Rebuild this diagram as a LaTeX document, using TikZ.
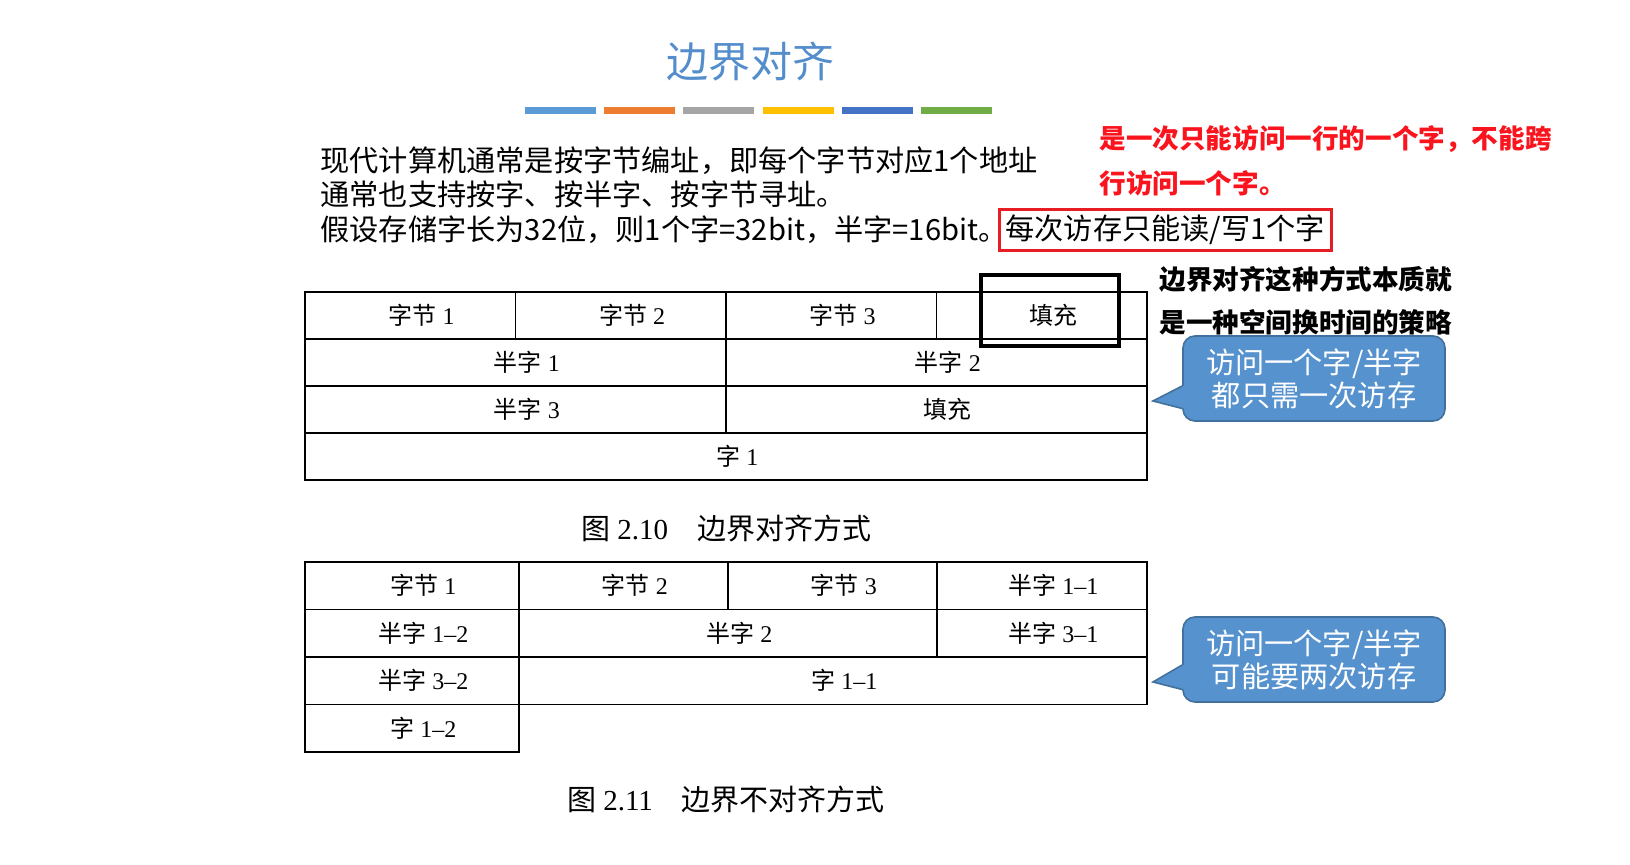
\documentclass[tikz,border=0pt]{standalone}
\usepackage{fontspec}
\setmainfont{Liberation Serif}
\newfontfamily\cjk{Noto Sans CJK SC}
\usetikzlibrary{positioning,calc}
\definecolor{titleblue}{RGB}{84,141,204}
\definecolor{barblue}{RGB}{91,155,213}
\definecolor{barorange}{RGB}{237,125,49}
\definecolor{bargray}{RGB}{165,165,165}
\definecolor{bargold}{RGB}{255,192,0}
\definecolor{bardark}{RGB}{68,114,196}
\definecolor{bargreen}{RGB}{112,173,71}
\definecolor{markred}{RGB}{232,28,36}
\definecolor{notered}{RGB}{250,20,30}
\definecolor{callfill}{RGB}{86,146,206}
\definecolor{callline}{RGB}{65,113,156}
\newcommand{\zh}[1]{{\cjk #1}}
\tikzset{
  cell/.style={draw, line width=0.9pt, anchor=north west, inner sep=0pt, outer sep=0pt, font=\fontsize{12}{14}\selectfont, execute at begin node={\hspace*{11.4pt}}},
  bodytxt/.style={anchor=west, inner sep=0pt, font=\cjk\fontsize{14.6}{18}\selectfont},
  bubble/.style={fill=callfill, draw=callline, line width=0.8pt, rounded corners=6pt, minimum width=131pt, minimum height=42.5pt, align=center, text=white, font=\cjk\fontsize{14.6}{16.5}\selectfont},
  caption/.style={font=\fontsize{14.5}{16}\selectfont},
}
\begin{document}
\begin{tikzpicture}[x=0.5pt,y=-0.5pt]
\fill[white] (0,0) rectangle (1630,865);
\useasboundingbox (0,0) rectangle (1630,865);
% title and colour bars
\node[text=titleblue, font=\cjk\fontsize{21}{24}\selectfont] (title) at (750,62) {边界对齐};
\foreach \c [count=\i from 0] in {barblue,barorange,bargray,bargold,bardark,bargreen}
  \fill[\c] (525+\i*79.2,107.5) rectangle ++(71,7);
% text
\node[bodytxt] (l1) at (320,161) {现代计算机通常是按字节编址，即每个字节对应1个地址};
\node[bodytxt] (l2) at (320,194) {通常也支持按字、按半字、按字节寻址。};
\node[bodytxt] (l3) at (320,230) {假设存储字长为32位，则1个字=32bit，半字=16bit。};
\node[bodytxt, draw=markred, line width=1.5pt, inner sep=3pt, right=-5pt of l3] (rbox) {每次访存只能读/写1个字};
\node[anchor=west, align=left, inner sep=0pt, text=notered, font=\cjk\bfseries\fontsize{13.3}{22.5}\selectfont] (note) at (1099,160.5) {是一次只能访问一行的一个字，不能跨\\行访问一个字。};
\node[anchor=west, align=left, inner sep=0pt, font=\cjk\bfseries\fontsize{13.3}{21.5}\selectfont] (essence) at (1159,300.5) {边界对齐这种方式本质就\\是一种空间换时间的策略};
% aligned
\foreach \lbl [count=\i from 0] in {\zh{字节}~1,\zh{字节}~2,\zh{字节}~3,\zh{填充}}
  \node[cell, minimum width=105.25pt, minimum height=23.5pt] (a\i) at (305+\i*210.5,292) {\lbl};
\node[cell, minimum width=210.5pt, minimum height=23.5pt] (b0) at (305,339) {\zh{半字}~1};
\node[cell, minimum width=210.5pt, minimum height=23.5pt] (b1) at (726,339) {\zh{半字}~2};
\node[cell, minimum width=210.5pt, minimum height=23.5pt] (c0) at (305,386) {\zh{半字}~3};
\node[cell, minimum width=210.5pt, minimum height=23.5pt] (c1) at (726,386) {\zh{填充}};
\node[cell, minimum width=421pt, minimum height=23.5pt] (d0) at (305,433) {\zh{字}~1};
\node[draw, line width=2pt, minimum width=69pt, minimum height=35.5pt] (hl) at (1050,310.5) {};
\node[caption] (cap1) at (726,528) {\zh{图}~2.10\quad\zh{边界对齐方式}};
% not aligned
\node[cell, minimum width=107pt, minimum height=23.75pt] (e0) at (305,562) {\zh{字节}~1};
\node[cell, minimum width=104.5pt, minimum height=23.75pt] (e1) at (519,562) {\zh{字节}~2};
\node[cell, minimum width=104.5pt, minimum height=23.75pt] (e2) at (728,562) {\zh{字节}~3};
\node[cell, minimum width=105pt, minimum height=23.75pt] (e3) at (937,562) {\zh{半字}~1--1};
\node[cell, minimum width=107pt, minimum height=23.75pt] (f0) at (305,609.5) {\zh{半字}~1--2};
\node[cell, minimum width=209pt, minimum height=23.75pt] (f1) at (519,609.5) {\zh{半字}~2};
\node[cell, minimum width=105pt, minimum height=23.75pt] (f2) at (937,609.5) {\zh{半字}~3--1};
\node[cell, minimum width=107pt, minimum height=23.75pt] (g0) at (305,657) {\zh{半字}~3--2};
\node[cell, minimum width=314pt, minimum height=23.75pt] (g1) at (519,657) {\zh{字}~1--1};
\node[cell, minimum width=107pt, minimum height=23.75pt] (h0) at (305,704.5) {\zh{字}~1--2};
\node[caption] (cap2) at (726,799) {\zh{图}~2.11\quad\zh{边界不对齐方式}};
% callouts
\node[bubble] (tip1) at (1314,378.5) {访问一个字/半字\\都只需一次访存};
\coordinate (p1) at (1153,401);
\fill[callfill] ($(tip1.west)+(0,7.5)$) -- (p1) -- ($(tip1.west)+(0,30)$) -- ($(tip1.west)+(3,30)$) -- ($(tip1.west)+(3,7.5)$) -- cycle;
\draw[callline, line width=0.8pt] ($(tip1.west)+(0,7.5)$) -- (p1) -- ($(tip1.west)+(0,30)$);
\node[bubble] (tip2) at (1314,659.5) {访问一个字/半字\\可能要两次访存};
\coordinate (p2) at (1153,682);
\fill[callfill] ($(tip2.west)+(0,5.5)$) -- (p2) -- ($(tip2.west)+(0,30)$) -- ($(tip2.west)+(3,30)$) -- ($(tip2.west)+(3,5.5)$) -- cycle;
\draw[callline, line width=0.8pt] ($(tip2.west)+(0,5.5)$) -- (p2) -- ($(tip2.west)+(0,30)$);
\end{tikzpicture}
\end{document}
